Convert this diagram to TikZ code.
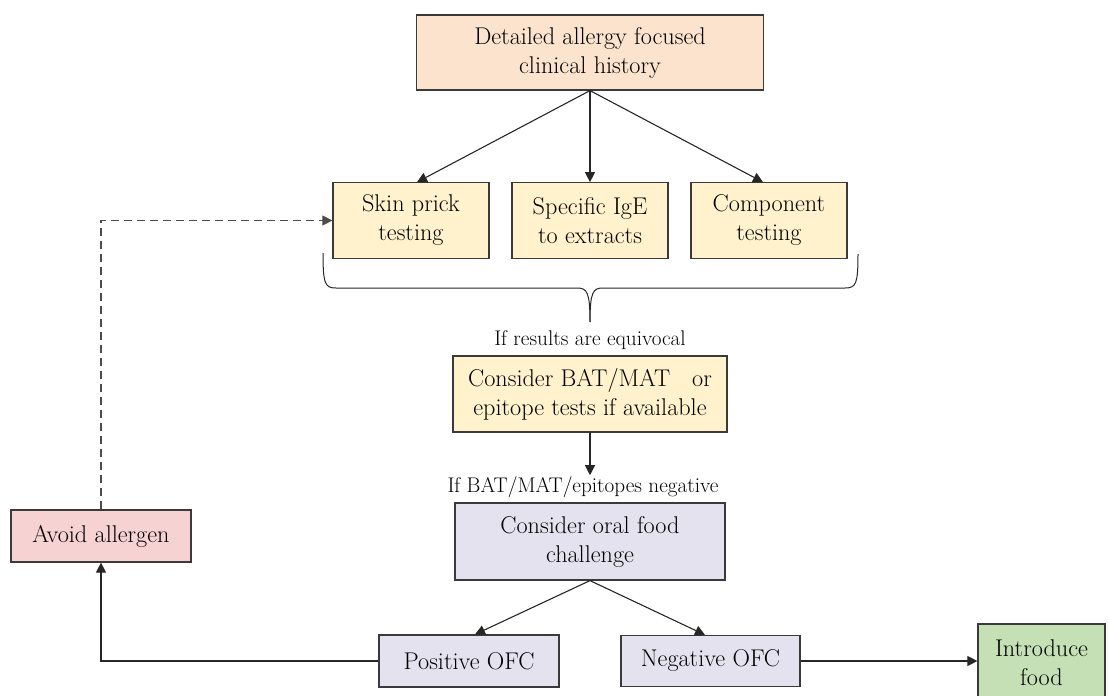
\documentclass[tikz,border=0pt]{standalone}
\usepackage{fontspec}
\setmainfont{Latin Modern Roman}
\usetikzlibrary{arrows.meta,calc}
\definecolor{edgecol}{HTML}{3A3A3A}
\definecolor{peach}{HTML}{FBE3CD}
\definecolor{cream}{HTML}{FFF2CC}
\definecolor{lavender}{HTML}{E5E2F0}
\definecolor{rose}{HTML}{F6D2D3}
\definecolor{leaf}{HTML}{C6E0B5}
\begin{document}
\begin{tikzpicture}[x=1pt,y=-1pt,
  box/.style={draw=edgecol, line width=1.2pt, align=center, inner sep=0pt,
    font=\fontsize{24.2}{29}\selectfont},
  lbl/.style={align=center, inner sep=1pt, font=\fontsize{21.2}{26}\selectfont},
  conn/.style={draw=black!85, line width=1.1pt, -{Triangle[length=10pt,width=10pt]}},
  loopback/.style={conn, dash pattern=on 8pt off 5pt, draw=black!70}
]
\useasboundingbox (0,0) rectangle (1109,696);

% boxes
\node[box, fill=peach, minimum width=347pt, minimum height=75pt] (hist) at (590,52.5)
  {Detailed allergy focused\\clinical history};
\node[box, fill=cream, minimum width=156pt, minimum height=75.5pt] (skin) at (411,220.5)
  {Skin prick\\testing};
\node[box, fill=cream, minimum width=156pt, minimum height=75.5pt] (ige) at (590,220.5)
  {Specific IgE\\to extracts};
\node[box, fill=cream, minimum width=156pt, minimum height=75.5pt] (comp) at (769,220.5)
  {Component\\testing};
\node[box, fill=cream, minimum width=274pt, minimum height=76pt] (bat) at (590,394)
  {Consider BAT/MAT\ \ \ or\\epitope tests if available};
\node[box, fill=lavender, minimum width=270pt, minimum height=77pt] (ofc) at (590,541.5)
  {Consider oral food\\challenge};
\node[box, fill=lavender, minimum width=180pt, minimum height=52pt] (pos) at (469,661)
  {Positive OFC};
\node[box, fill=lavender, minimum width=179pt, minimum height=51pt] (neg) at (710.5,661)
  {Negative OFC};
\node[box, fill=rose, minimum width=180pt, minimum height=52pt] (avoid) at (101,536)
  {Avoid allergen};
\node[box, fill=leaf, minimum width=127pt, minimum height=78pt] (intro) at (1041.5,663)
  {Introduce\\food};

% labels
\node[lbl] (equiv) at (590,340) {If results are equivocal};
\node[lbl] (negl) at (583,487) {If BAT/MAT/epitopes negative};

% brace gathering the three tests
\draw[draw=black!85, line width=1pt]
  (323,253) .. controls (323,284) and (325,288) .. (336,288) -- (577,288)
  .. controls (587,288) and (590,292) .. (590,322);
\draw[draw=black!85, line width=1pt]
  (858,254) .. controls (858,284) and (856,288) .. (845,288) -- (603,288)
  .. controls (593,288) and (590,292) .. (590,322);

% connectors
\draw[conn] (hist.south) -- ($(skin.north)+(6,0)$);
\draw[conn] (hist.south) -- (ige.north);
\draw[conn] (hist.south) -- ($(comp.north)+(-6,0)$);
\draw[conn] (bat.south) -- (bat.south |- negl.north);
\draw[conn] (ofc.south) -- ($(pos.north)+(6,0)$);
\draw[conn] (ofc.south) -- ($(neg.north)+(-5.5,0)$);
\draw[conn] (pos.west) -| (avoid.south);
\draw[conn] (neg.east) -- (neg.east -| intro.west);
\draw[loopback] (avoid.north) |- (skin.west);
\end{tikzpicture}
\end{document}
